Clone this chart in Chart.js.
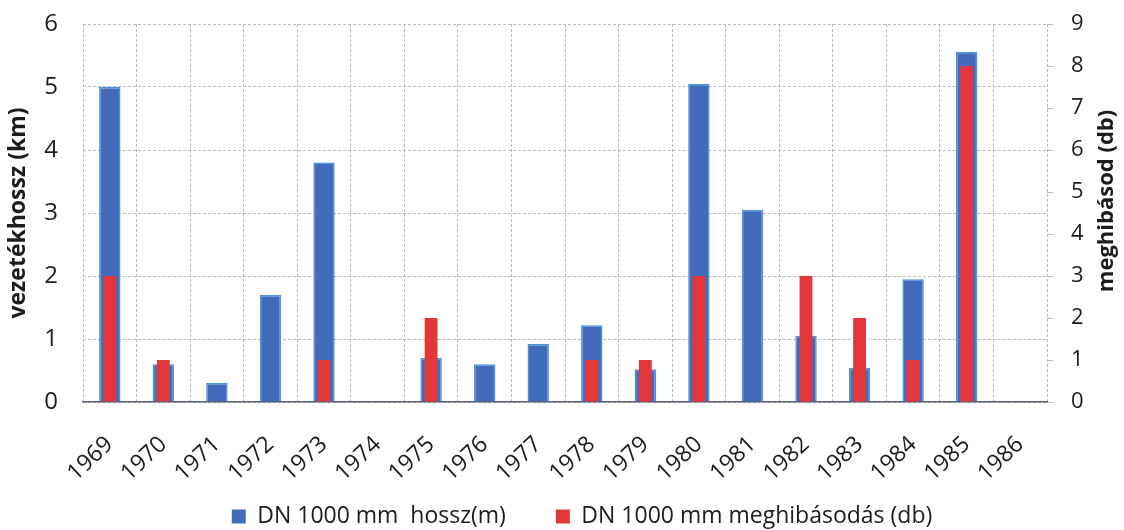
<!DOCTYPE html>
<html>
<head>
<meta charset="utf-8">
<script src="https://cdn.jsdelivr.net/npm/chart.js@4.4.1/dist/chart.umd.min.js"></script>
<style>
  html, body { margin: 0; padding: 0; background: #ffffff; }
  #wrap { width: 1124px; height: 530px; position: relative; }
</style>
</head>
<body>
<div id="wrap"><canvas id="c" width="1124" height="530"></canvas></div>
<script>
// Years on the category axis
const years = ['1969','1970','1971','1972','1973','1974','1975','1976','1977',
               '1978','1979','1980','1981','1982','1983','1984','1985','1986'];

// Pipe length laid each year (km, left axis)
const lengthKm = [5.0, 0.6, 0.3, 1.7, 3.8, 0, 0.7, 0.6, 0.92,
                  1.22, 0.52, 5.05, 3.05, 1.05, 0.54, 1.95, 5.56, 0];

// Number of failures (db, right axis)
const failures = [3, 1, 0, 0, 1, 0, 2, 0, 0,
                  1, 1, 3, 0, 3, 2, 1, 8, 0];

// Axis tick values
const leftTicks = [0, 1, 2, 3, 4, 5, 6];
const rightTicks = [0, 1, 2, 3, 4, 5, 6, 7, 8, 9];

const seriesNames = ['DN 1000 mm  hossz(m)', 'DN 1000 mm meghibásodás (db)'];
const axisTitles = ['vezetékhossz (km)', 'meghibásod (db)'];

const FONT = '"Open Sans", "Noto Sans", sans-serif';
const TXT = '#1c1c1c';
const GRID = '#b9b9c2';
const DASH = [3, 2];

// Right-hand axis title, read bottom-to-top like the left one
const rightTitle = {
  id: 'rightTitle',
  afterDraw(chart) {
    const s = chart.scales.yR;
    const ctx = chart.ctx;
    ctx.save();
    ctx.translate(1107, (s.top + s.bottom) / 2 - 12);
    ctx.rotate(-Math.PI / 2);
    ctx.font = 'bold 22px ' + FONT;
    ctx.fillStyle = TXT;
    ctx.textAlign = 'center';
    ctx.textBaseline = 'middle';
    ctx.fillText(axisTitles[1], 0, 0);
    ctx.restore();
  }
};

// Let the slanted year labels run below the x scale box, and nudge the legend right
const boxTweaks = {
  id: 'boxTweaks',
  beforeDraw(chart) {
    chart.scales.x.bottom = chart.height;
    const lg = chart.legend;
    lg.left += 20;
    lg.right += 20;
  }
};

function fixVertical(width) {
  return function (scale) {
    scale.width = width;
    scale.paddingTop = 0;
    scale.paddingBottom = 0;
  };
}

new Chart(document.getElementById('c'), {
  type: 'bar',
  data: {
    labels: years,
    datasets: [
      {
        label: seriesNames[0],
        data: lengthKm,
        yAxisID: 'yL',
        backgroundColor: '#426cbb',
        borderColor: '#4d93d8',
        borderWidth: 1.5,
        borderSkipped: 'bottom',
        barPercentage: 0.40,
        categoryPercentage: 1.0,
        order: 2
      },
      {
        label: seriesNames[1],
        data: failures,
        yAxisID: 'yR',
        backgroundColor: '#e4373a',
        borderColor: '#e4373a',
        borderWidth: 0,
        barPercentage: 0.24,
        categoryPercentage: 1.0,
        order: 1
      }
    ]
  },
  options: {
    responsive: false,
    animation: false,
    devicePixelRatio: 1,
    layout: { padding: { top: 24, left: 0, right: 0, bottom: -8 } },
    datasets: { bar: { grouped: false } },
    plugins: {
      tooltip: { enabled: false },
      legend: {
        position: 'bottom',
        labels: {
          color: TXT,
          font: { family: FONT, size: 23 },
          boxWidth: 14,
          boxHeight: 14,
          padding: 50,
          generateLabels(chart) {
            return chart.data.datasets.map((ds, i) => ({
              text: ds.label,
              fillStyle: ds.backgroundColor,
              strokeStyle: ds.backgroundColor,
              lineWidth: 0,
              hidden: false,
              datasetIndex: i,
              fontColor: TXT
            }));
          }
        }
      }
    },
    scales: {
      x: {
        offset: true,
        afterFit(scale) { scale.height = 53; },
        grid: {
          offset: true,
          color: GRID,
          lineWidth: 1,
          drawTicks: false
        },
        border: { display: true, color: '#5a6070', width: 1.5, dash: DASH },
        ticks: {
          color: TXT,
          font: { family: FONT, size: 23 },
          minRotation: 43,
          maxRotation: 43,
          padding: 29,
          autoSkip: false
        }
      },
      yL: {
        position: 'left',
        min: 0,
        max: 6,
        afterBuildTicks(scale) { scale.ticks = leftTicks.map(v => ({ value: v })); },
        afterFit: fixVertical(83),
        grid: { color: GRID, lineWidth: 1, drawTicks: false },
        border: { display: false, dash: DASH },
        ticks: {
          color: TXT,
          font: { family: FONT, size: 24 },
          padding: 25
        },
        title: {
          display: true,
          text: axisTitles[0],
          color: TXT,
          font: { family: FONT, size: 23, weight: 'bold' },
          padding: { top: 5, bottom: 0 }
        }
      },
      yR: {
        position: 'right',
        min: 0,
        max: 9,
        afterBuildTicks(scale) { scale.ticks = rightTicks.map(v => ({ value: v })); },
        afterFit: fixVertical(77),
        grid: { drawOnChartArea: false, color: GRID, tickLength: 6 },
        border: { display: false },
        ticks: {
          color: TXT,
          font: { family: FONT, size: 22 },
          padding: 18
        },
        title: { display: false }
      }
    }
  },
  plugins: [rightTitle, boxTweaks]
});
</script>
</body>
</html>
